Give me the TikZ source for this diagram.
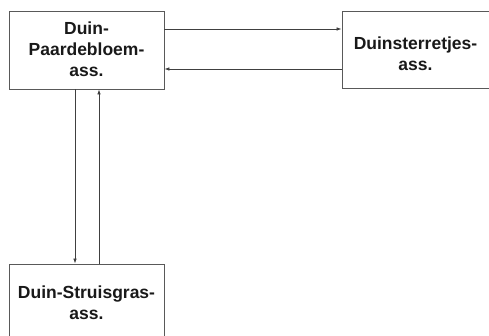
\documentclass[tikz,border=0pt]{standalone}
\usepackage{fontspec}
\setmainfont{Liberation Sans}
\usetikzlibrary{arrows.meta}
\begin{document}
\begin{tikzpicture}[x=1pt,y=-1pt,
  box/.style={draw=black!65,line width=0.8pt,fill=white,inner sep=0pt},
  lbl/.style={font=\fontsize{17.5}{21}\selectfont\bfseries,text=black!90,align=center,inner sep=0pt},
  conn/.style={draw=black!75,line width=0.7pt,-{Latex[length=5pt,width=3.5pt]}}]
\fill[white] (0,0) rectangle (489,336);
\clip (0,0) rectangle (489,336);
\useasboundingbox (0,0) rectangle (489,336);
\node[box,minimum width=155pt,minimum height=78pt] (b1) at (86.5,50) {};
\node[box,minimum width=147pt,minimum height=77pt] (b2) at (415.5,49.5) {};
\node[box,minimum width=155pt,minimum height=78pt] (b3) at (86.5,303) {};
\node[lbl] (t1) at (86.5,49) {Duin-\\Paardebloem-\\ass.};
\node[lbl] (t2) at (415.5,54) {Duinsterretjes-\\ass.};
\node[lbl] (t3) at (86.5,303) {Duin-Struisgras-\\ass.};
\coordinate (a1) at (b1.east |- 0,29);
\coordinate (a2) at (b2.west |- 0,29);
\coordinate (c1) at (b2.west |- 0,69);
\coordinate (c2) at (b1.east |- 0,69);
\coordinate (d1) at (75,0 |- b1.south);
\coordinate (d2) at (75,0 |- b3.north);
\coordinate (e1) at (99,0 |- b3.north);
\coordinate (e2) at (99,0 |- b1.south);
\draw[conn] (a1) -- (a2);
\draw[conn] (c1) -- (c2);
\draw[conn] (d1) -- (d2);
\draw[conn] (e1) -- (e2);
\end{tikzpicture}
\end{document}
